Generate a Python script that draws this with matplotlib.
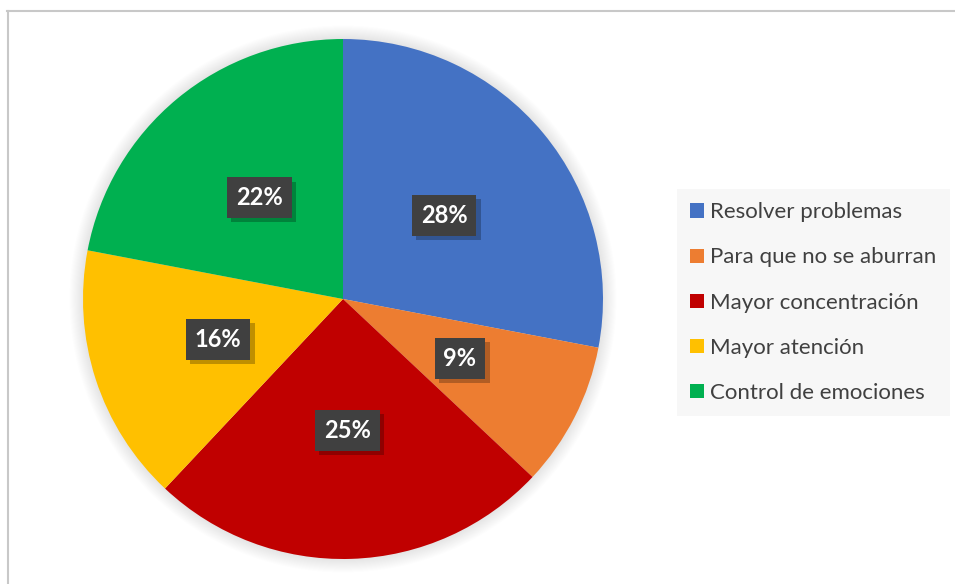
import numpy as np
import matplotlib
matplotlib.use("Agg")
import matplotlib.pyplot as plt
from matplotlib.patches import Circle, Rectangle
from matplotlib.lines import Line2D
import matplotlib.patheffects as pe

categories = ["Resolver problemas", "Para que no se aburran", "Mayor concentración",
              "Mayor atención", "Control de emociones"]
values = [28, 9, 25, 16, 22]
colors = ["#4472C4", "#ED7D31", "#C00000", "#FFC000", "#00B050"]

plt.rcParams['font.family'] = ['Lato', 'DejaVu Sans']
plt.rcParams['hatch.color'] = '#5e5e5e'
plt.rcParams['hatch.linewidth'] = 0.6

W, H = 955, 584
fig = plt.figure(figsize=(W / 100, H / 100), dpi=100)

# pie centre (343, 299) px, radius 260 px
cx, cy, r = 343, 299, 260
ax = fig.add_axes([(cx - r) / W, (H - cy - r) / H, 2 * r / W, 2 * r / H])
ax.axis('off')

# soft glow around the pie
for k in range(14):
    ax.add_patch(Circle((0, 0), 1.0 + k * 0.004, color='black', alpha=0.006,
                        zorder=0, clip_on=False, lw=0))

wedges, _ = ax.pie(values, colors=colors, startangle=90, counterclock=False,
                   radius=1.0, wedgeprops=dict(linewidth=0))
for w in wedges:
    w.set_zorder(2)
ax.set_xlim(-1, 1)
ax.set_ylim(-1, 1)
ax.set_aspect('equal')

total = sum(values)
start = 90.0
for v in values:
    ang = np.deg2rad(start - v / total * 360 / 2)
    start -= v / total * 360
    t = ax.text(0.505 * np.cos(ang), 0.505 * np.sin(ang), f"{round(v / total * 100)}%",
                ha='center', va='center', color='white', fontsize=17,
                fontweight='bold', zorder=5,
                bbox=dict(boxstyle='square,pad=0.38', facecolor='#404040',
                          edgecolor='none', hatch='..'))
    t.get_bbox_patch().set_path_effects([
        pe.SimplePatchShadow(offset=(3, -3), shadow_rgbFace='black', alpha=0.25),
        pe.Normal()])

handles = [Rectangle((0, 0), 1, 1, facecolor=c, edgecolor='none') for c in colors]
leg = fig.legend(handles, categories, loc='upper left',
                 bbox_to_anchor=(677 / W, 1 - 189 / H), borderaxespad=0,
                 frameon=True, fancybox=False, fontsize=16, labelcolor='#404040',
                 handlelength=0.6, handleheight=0.6, handletextpad=0.3,
                 labelspacing=1.13, borderpad=0.6)
leg.get_frame().set_facecolor('#f7f7f7')
leg.get_frame().set_edgecolor('none')
leg.get_frame().set_alpha(1)

# outer chart border (top and left edges visible)
fig.add_artist(Line2D([7.5 / W, 7.5 / W], [0, 1 - 10.5 / H], color='#c8c8c8', lw=1.5))
fig.add_artist(Line2D([7 / W, 1], [1 - 10.5 / H, 1 - 10.5 / H], color='#c8c8c8', lw=1.5))

fig.savefig("out.png", dpi=100)
